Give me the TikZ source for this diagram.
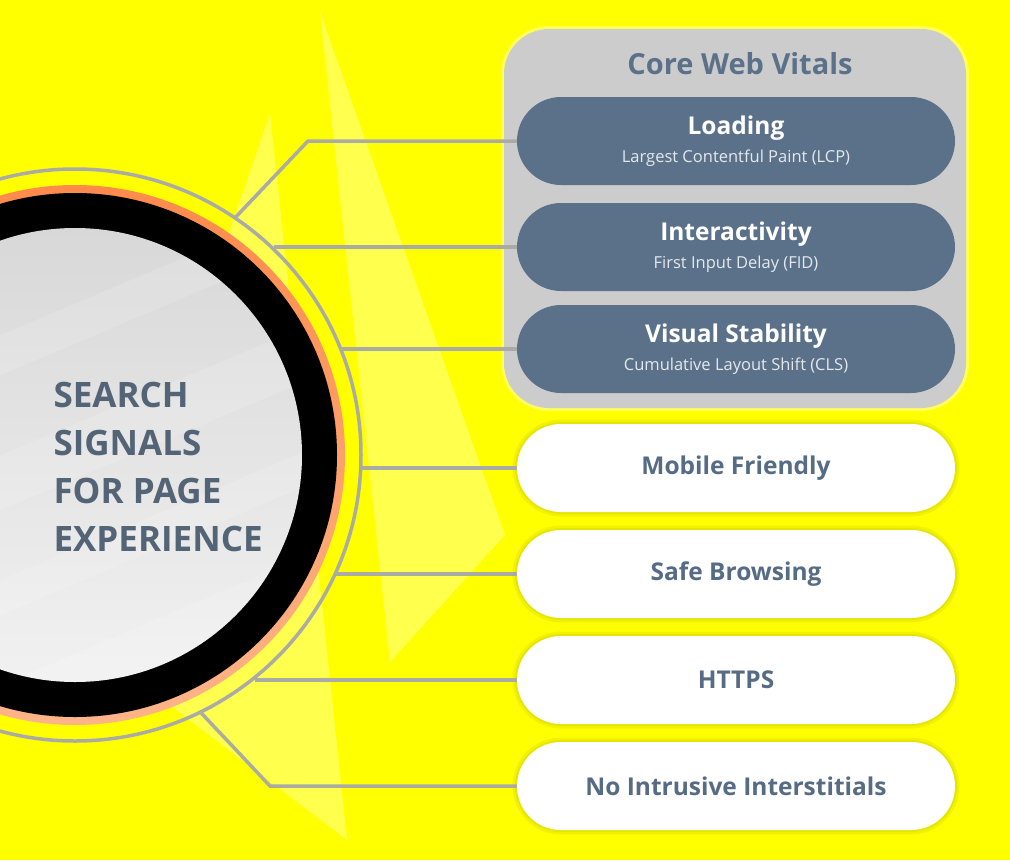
\documentclass[tikz,border=0pt]{standalone}
\usepackage{fontspec}
\setmainfont{Open Sans}

\definecolor{bgyellow}{HTML}{FFFF00}
\definecolor{ringgray}{HTML}{ABABA6}
\definecolor{linkgray}{HTML}{ABABA6}
\definecolor{ringorange}{HTML}{FF8A4C}
\definecolor{ringpeach}{HTML}{FFB488}
\definecolor{diskdark}{HTML}{D8D8D8}
\definecolor{disklight}{HTML}{F1F1F1}
\definecolor{hubtext}{HTML}{536476}
\definecolor{coregray}{HTML}{CCCCCC}
\definecolor{slate}{HTML}{5B7189}
\definecolor{slatetext}{HTML}{566B84}
\definecolor{subtext}{HTML}{E4E9EE}

\newcommand{\vitaltitle}{\bfseries\fontsize{24.5}{28}\selectfont}
\newcommand{\vitalsub}{\mdseries\fontsize{16.5}{20}\selectfont\color{subtext}}

\begin{document}
\begin{tikzpicture}[
    x=1pt, y=-1pt,
    hubring/.style    = {circle, draw=ringgray, line width=3.5pt, minimum size=572pt,
                         inner sep=0pt, outer sep=0pt},
    hublabel/.style   = {align=left, anchor=west, text=hubtext,
                         font=\bfseries\fontsize{35}{47.7}\selectfont},
    corebox/.style    = {rectangle, rounded corners=45pt, fill=coregray,
                         minimum width=462pt, minimum height=379pt,
                         preaction={draw=white, opacity=0.35, line width=6pt}},
    coretitle/.style  = {text=slate, font=\bfseries\fontsize{29}{34}\selectfont},
    vitalpill/.style  = {rectangle, rounded corners=44pt, fill=slate,
                         minimum width=438pt, minimum height=88pt, inner sep=0pt,
                         align=center, text=white},
    signalpill/.style = {rectangle, rounded corners=44pt, fill=white,
                         minimum width=438pt, minimum height=88pt, inner sep=0pt,
                         text=slatetext, font=\bfseries\fontsize{24.5}{28}\selectfont,
                         preaction={draw=black, opacity=0.05, line width=9pt},
                         preaction={draw=black, opacity=0.05, line width=4pt}},
    link/.style       = {draw=linkgray, line width=3.5pt},
  ]

  \useasboundingbox (0,0) rectangle (1010,860);
  \clip (0,0) rectangle (1010,860);
  \fill[bgyellow] (0,0) rectangle (1010,860);
  \fill[white, opacity=0.3] (320,12) -- (505,535) -- (390,662) -- cycle;
  \fill[white, opacity=0.3] (270,113) -- (347,840) -- (88,643) -- cycle;

  \shade[top color=ringorange, bottom color=ringpeach] (75,455) circle (270);
  \fill[black] (75,455) circle (262);
  \shade[top color=diskdark, bottom color=disklight] (75,455) circle (227);
  \begin{scope}
    \clip (75,455) circle (227);
    \foreach \y/\h in {300/40, 420/55, 545/35, 650/60}
      \fill[white, opacity=0.14] (-200,\y+120) -- (320,\y-100) -- (320,\y-100+\h) -- (-200,\y+120+\h) -- cycle;
  \end{scope}

  \node[hubring] (hub) at (75,455) {};
  \node[hublabel] (hubtxt) at (50,467) {SEARCH\\SIGNALS\\FOR PAGE\\EXPERIENCE};

  \node[corebox] (core) at (735,218.5) {};
  \node[coretitle] (coretitle) at (740,64) {Core Web Vitals};
  \node[vitalpill] (loading) at (736,141)
    {{\vitaltitle Loading}\\[8pt]{\vitalsub Largest Contentful Paint (LCP)}};
  \node[vitalpill] (interact) at (736,247)
    {{\vitaltitle Interactivity}\\[8pt]{\vitalsub First Input Delay (FID)}};
  \node[vitalpill] (stability) at (736,349)
    {{\vitaltitle Visual Stability}\\[8pt]{\vitalsub Cumulative Layout Shift (CLS)}};

  \node[signalpill] (mobile) at (736,468) {Mobile Friendly};
  \node[signalpill] (safe) at (736,574) {Safe Browsing};
  \node[signalpill] (https) at (736,680) {HTTPS};
  \node[signalpill] (nointr) at (736,786) {No Intrusive Interstitials};

  \coordinate (kneeA) at (308,141);
  \coordinate (kneeB) at (270,786);

  \draw[link] (hub.56.5) -- (kneeA) -- (loading.west);
  \draw[link] (hub.46.4 |- interact.west) -- (interact.west);
  \draw[link] (hub.21.7 |- stability.west) -- (stability.west);
  \draw[link] (hub.-2.6 |- mobile.west) -- (mobile.west);
  \draw[link] (hub.-24.5 |- safe.west) -- (safe.west);
  \draw[link] (hub.-51.6 |- https.west) -- (https.west);
  \draw[link] (hub.-64.7) -- (kneeB) -- (nointr.west);

\end{tikzpicture}
\end{document}
